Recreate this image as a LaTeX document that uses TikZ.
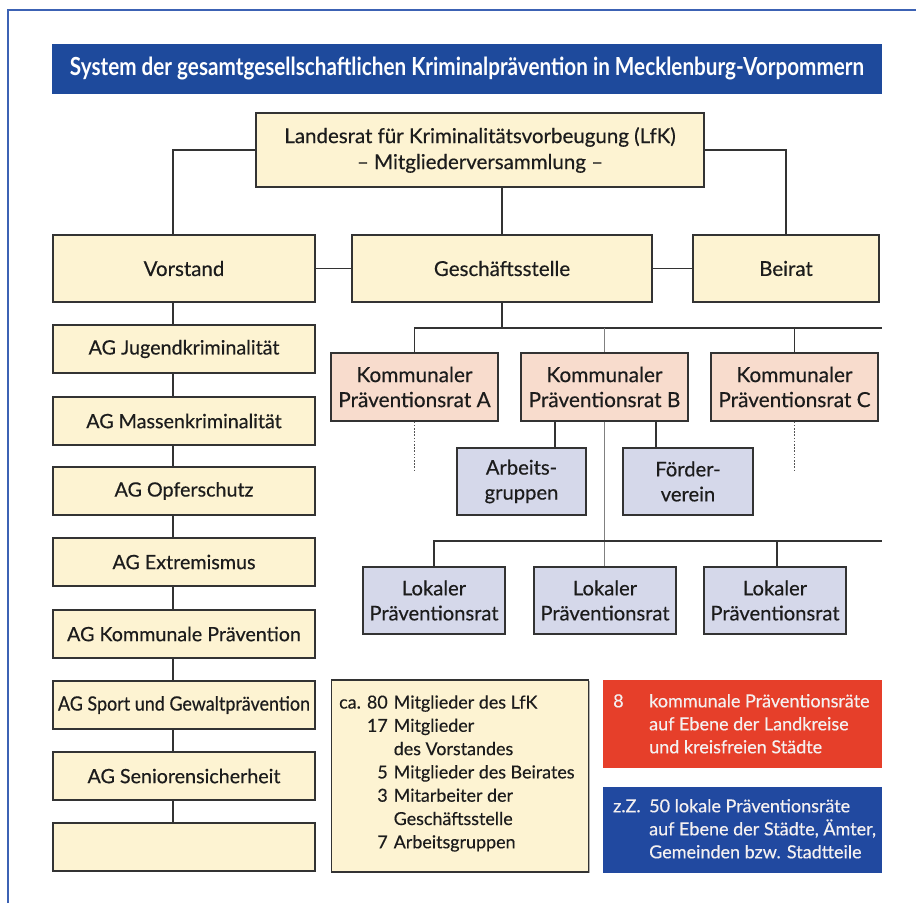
\documentclass[tikz,border=0pt]{standalone}
\usepackage{fontspec}
\setmainfont[FakeStretch=1.0,FakeBold=0.4]{Lato}
\newfontfamily\titlefont[FakeStretch=1.0]{Lato}
\usetikzlibrary{shadows}
\definecolor{cream}{HTML}{FDF3D2}
\definecolor{pinkf}{HTML}{F8DCCD}
\definecolor{lav}{HTML}{D5D8EA}
\definecolor{redf}{HTML}{E63F2A}
\definecolor{bluef}{HTML}{2149A0}
\definecolor{titleblue}{HTML}{1E4A9C}
\definecolor{framec}{HTML}{3C62B4}
\definecolor{linec}{HTML}{333333}
\definecolor{txt}{HTML}{1C1C1C}
\definecolor{thinc}{HTML}{808080}
\definecolor{dotc}{HTML}{555555}
\definecolor{lighttxt}{HTML}{F4F0F0}
\tikzset{
  box/.style={draw=linec, line width=1.3pt, inner sep=0pt, align=center, text=txt,
    drop shadow={shadow xshift=1.2pt, shadow yshift=-1.2pt, opacity=0.3, fill=black}},
  mainfont/.style={font=\fontsize{20.5}{26}\selectfont},
  agfont/.style={font=\fontsize{19.7}{23}\selectfont},
  cbox/.style={box, fill=cream, mainfont},
  agbox/.style={box, fill=cream, agfont, minimum width=262pt, minimum height=48pt},
  pbox/.style={box, fill=pinkf, font=\fontsize{20.8}{25}\selectfont, minimum width=167pt, minimum height=68pt},
  lbox/.style={box, fill=lav, font=\fontsize{20.2}{25}\selectfont},
  conn/.style={draw=linec, line width=1.3pt},
  thinconn/.style={draw=thinc, line width=0.9pt},
  dotconn/.style={draw=dotc, line width=1.3pt, dash pattern=on 1.6pt off 1.6pt},
}
\begin{document}
\begin{tikzpicture}[x=1pt,y=-1pt]
\useasboundingbox (0,0) rectangle (916,903);
\fill[white] (0,0) rectangle (916,903);
% frame
\draw[framec, line width=2.5pt] (8,903) -- (8,10) -- (916,10);
% title
\node[fill=titleblue, minimum width=830pt, minimum height=50pt, inner sep=0pt, text=white] (title) at (467,68.5)
  {\resizebox{794pt}{18.5pt}{\titlefont\bfseries System der gesamtgesellschaftlichen Kriminalprävention in Mecklenburg-Vorpommern}};
% top level
\node[cbox, minimum width=448pt, minimum height=74pt] (lfk) at (480,150)
  {Landesrat für Kriminalitätsvorbeugung (LfK)\\– Mitgliederversammlung –};
\node[cbox, minimum width=262pt, minimum height=67pt] (vor) at (184,268.5) {Vorstand};
\node[cbox, minimum width=300pt, minimum height=67pt] (ges) at (502,268.5) {Geschäftsstelle};
\node[cbox, minimum width=186pt, minimum height=67pt] (bei) at (786,268.5) {Beirat};
% AG column
\node[agbox] (ag1) at (184,349) {AG Jugendkriminalität};
\node[agbox] (ag2) at (184,421) {AG Massenkriminalität};
\node[agbox] (ag3) at (184,491) {AG Opferschutz};
\node[agbox] (ag4) at (184,562) {AG Extremismus};
\node[agbox] (ag5) at (184,634) {AG Kommunale Prävention};
\node[agbox] (ag6) at (184,705) {\scalebox{0.91}[1]{AG Sport und Gewaltprävention}};
\node[agbox] (ag7) at (184,776) {AG Seniorensicherheit};
\node[agbox] (ag8) at (184,847) {};
% kommunale
\node[pbox] (kA) at (414.5,387) {Kommunaler\\Präventionsrat A};
\node[pbox] (kB) at (604.5,387) {Kommunaler\\Präventionsrat B};
\node[pbox] (kC) at (794.5,387) {Kommunaler\\Präventionsrat C};
\node[lbox, minimum width=129pt, minimum height=67pt] (arb) at (521.5,481.5) {Arbeits-\\gruppen};
\node[lbox, minimum width=130pt, minimum height=67pt] (foe) at (688,481.5) {Förder-\\verein};
% lokale
\node[lbox, minimum width=142pt, minimum height=67pt] (lok1) at (434,600.5) {Lokaler\\Präventionsrat};
\node[lbox, minimum width=142pt, minimum height=67pt] (lok2) at (605,600.5) {Lokaler\\Präventionsrat};
\node[lbox, minimum width=142pt, minimum height=67pt] (lok3) at (775,600.5) {Lokaler\\Präventionsrat};
% info boxes
\node[box, fill=cream, minimum width=257pt, minimum height=192pt] (stats) at (460,776) {};
\node[anchor=north west, inner sep=0pt, text=txt, font=\fontsize{17.9}{23.3}\selectfont] (statstxt) at (339,692)
  {\begin{tabular}{@{}r@{\hspace{6pt}}l@{}}
   ca. 80 & Mitglieder des LfK\\
   17 & Mitglieder\\
      & des Vorstandes\\
   5 & Mitglieder des Beirates\\
   3 & Mitarbeiter der\\
     & Geschäftsstelle\\
   7 & Arbeitsgruppen
   \end{tabular}};
\node[fill=redf, minimum width=279pt, minimum height=88pt, inner sep=0pt] (red) at (742.5,724) {};
\node[anchor=north west, inner sep=0pt, text=lighttxt, font=\fontsize{18}{23}\selectfont] (redtxt) at (613,691)
  {\begin{tabular}{@{}p{36pt}@{}l@{}}
   8 & kommunale Präventionsräte\\
     & auf Ebene der Landkreise\\
     & und kreisfreien Städte
   \end{tabular}};
\node[fill=bluef, minimum width=279pt, minimum height=86pt, inner sep=0pt] (blue) at (742.5,830) {};
\node[anchor=north west, inner sep=0pt, text=lighttxt, font=\fontsize{18}{23}\selectfont] (bluetxt) at (613,796)
  {\begin{tabular}{@{}p{36pt}@{}l@{}}
   z.Z. & 50 lokale Präventionsräte\\
        & auf Ebene der Städte, Ämter,\\
        & Gemeinden bzw. Stadtteile
   \end{tabular}};
% connectors top
\coordinate (vx) at (173,0);
\draw[conn] (lfk.west) -| (vx |- vor.north);
\draw[conn] (ges.north |- lfk.south) -- (ges.north);
\draw[conn] (lfk.east) -| (bei.north);
\draw[conn] (vor.east) -- (ges.west);
\draw[conn] (ges.east) -- (bei.west);
% AG chain
\draw[conn] (vx |- vor.south) -- (vx |- ag1.north);
\draw[conn] (vx |- ag1.south) -- (vx |- ag2.north);
\draw[conn] (vx |- ag2.south) -- (vx |- ag3.north);
\draw[conn] (vx |- ag3.south) -- (vx |- ag4.north);
\draw[conn] (vx |- ag4.south) -- (vx |- ag5.north);
\draw[conn] (vx |- ag5.south) -- (vx |- ag6.north);
\draw[conn] (vx |- ag6.south) -- (vx |- ag7.north);
\draw[conn] (vx |- ag7.south) -- (vx |- ag8.north);
% bus to kommunale
\coordinate (busR) at (882,328);
\draw[conn] (kA.north) |- (busR);
\draw[conn] (ges.south) -- (ges.south |- busR);
\draw[conn] (kC.north) -- (kC.north |- busR);
\draw[thinconn] (kB.north |- busR) -- (kB.north);
\draw[thinconn] (kB.south) -- (kB.south |- lok2.north);
% arbeits / foerder
\draw[conn] ([xshift=-49.5pt]kB.south) -- ([xshift=-49.5pt]kB.south |- arb.north);
\draw[conn] ([xshift=51.5pt]kB.south) -- ([xshift=51.5pt]kB.south |- foe.north);
% dotted continuation
\coordinate (dA) at (414.5,470);
\coordinate (dC) at (794.5,470);
\draw[dotconn] (kA.south) -- (dA);
\draw[dotconn] (kC.south) -- (dC);
% bus to lokale
\coordinate (busR2) at (882,541);
\draw[conn] (lok1.north) |- (busR2);
\draw[conn] ([xshift=2pt]lok3.north) -- ([xshift=2pt]lok3.north |- busR2);
\end{tikzpicture}
\end{document}
